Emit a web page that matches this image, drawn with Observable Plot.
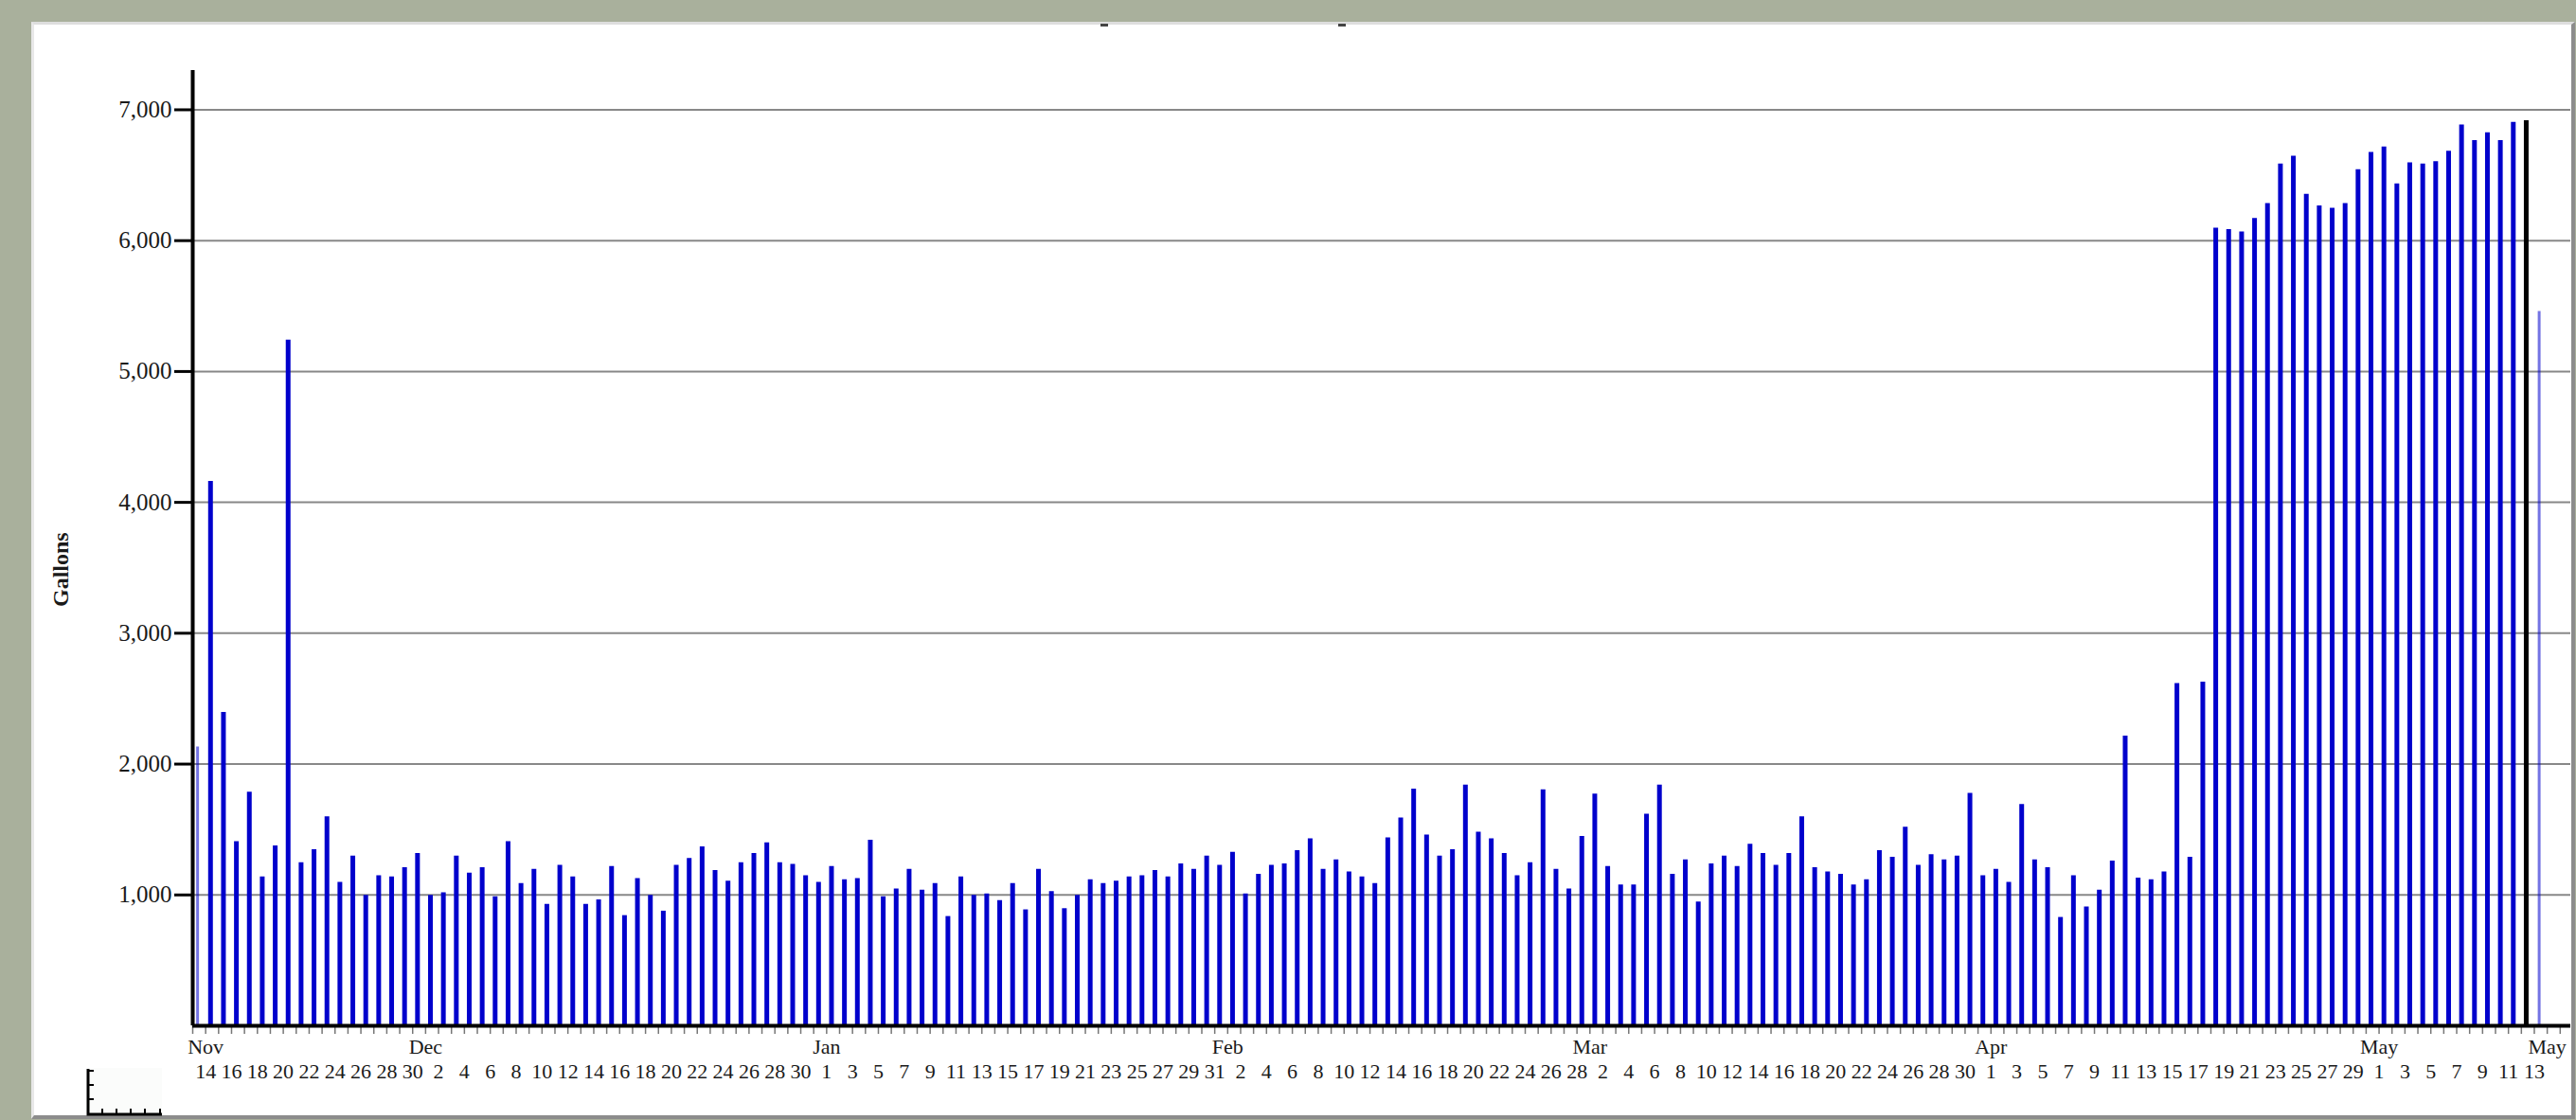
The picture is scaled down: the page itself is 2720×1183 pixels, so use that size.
<!DOCTYPE html>
<html><head><meta charset="utf-8">
<script src="https://cdn.jsdelivr.net/npm/d3@7"></script>
<script src="https://cdn.jsdelivr.net/npm/@observablehq/plot@0.6"></script>
<style>
html,body{margin:0;padding:0;width:2720px;height:1183px;overflow:hidden;background:#a9b09c;}
#panel{position:absolute;left:33px;top:23px;width:2686px;height:1159px;box-sizing:border-box;background:#fff;border-top:3px solid #dedede;border-left:3px solid #e8e8e8;border-right:4px solid #8c8c8c;border-bottom:4px solid #8c8c8c;}
#chart{position:absolute;left:0;top:0;}
.dash{position:absolute;top:25px;width:8px;height:3px;background:#444;}
#ruler{position:absolute;left:88px;top:1126px;}
</style></head><body>
<div id="panel"></div>
<div class="dash" style="left:1162px"></div>
<div class="dash" style="left:1413px"></div>
<svg id="ruler" width="90" height="54" viewBox="0 0 90 54">
  <rect x="5" y="2" width="78" height="48" fill="#fbfcfb"/>
  <path d="M5 3V51H83" fill="none" stroke="#000" stroke-width="3"/>
  <path d="M5 5H11M5 20H11M5 35H11M20 51V45M35 51V45M50 51V45M65 51V45M81 51V45" stroke="#000" stroke-width="2"/>
</svg>
<div id="chart"></div>
<script>
// ---- data (gallons per day) ----
const months   = ["2010-11", "2010-12", "2011-01", "2011-02", "2011-03", "2011-04", "2011-05"];
const firstDay = [13, 1, 1, 1, 1, 1, 1];
const novGallons = [2130, 4160, 2395, 1408, 1786, 1137, 1375, 5240, 1246, 1345, 1597, 1096, 1297, 997, 1147, 1137, 1208, 1316];
const decGallons = [997, 1016, 1297, 1166, 1208, 985, 1408, 1087, 1195, 927, 1227, 1137, 927, 963, 1217, 842, 1125, 997, 876, 1227, 1278, 1367, 1186, 1106, 1246, 1316, 1399, 1246, 1234, 1147, 1096];
const janGallons = [1217, 1116, 1125, 1418, 985, 1045, 1195, 1036, 1087, 835, 1137, 997, 1007, 956, 1087, 886, 1195, 1026, 895, 997, 1116, 1087, 1106, 1137, 1147, 1186, 1137, 1237, 1195, 1297, 1227];
const febGallons = [1326, 1007, 1157, 1227, 1237, 1338, 1428, 1195, 1268, 1176, 1137, 1087, 1437, 1588, 1808, 1457, 1297, 1346, 1839, 1479, 1428, 1316, 1147, 1246, 1803, 1195, 1045, 1447];
const marGallons = [1771, 1217, 1077, 1077, 1617, 1839, 1157, 1268, 946, 1237, 1297, 1217, 1387, 1316, 1227, 1316, 1597, 1208, 1176, 1157, 1077, 1116, 1338, 1287, 1517, 1227, 1307, 1268, 1297, 1776, 1147];
const aprGallons = [1195, 1096, 1692, 1268, 1208, 828, 1147, 908, 1036, 1258, 2214, 1128, 1116, 1176, 2615, 1287, 2627, 6096, 6084, 6067, 6169, 6284, 6586, 6646, 6354, 6265, 6248, 6284, 6542, 6675];
const mayGallons = [6716, 6434, 6595, 6586, 6603, 6684, 6884, 6764, 6824, 6764, 6904, 6916, 5458];
const monthValues = [novGallons, decGallons, janGallons, febGallons, marGallons, aprGallons, mayGallons];
const highlightDay = "2011-05-12";
const partialDays  = ["2010-11-13", "2011-05-13"];

// ---- tick labels ----
const yTicks = [1000, 2000, 3000, 4000, 5000, 6000, 7000];
const monthLabels     = ["Nov", "Dec", "Jan", "Feb", "Mar", "Apr", "May", "May"];
const monthLabelDates = ["2010-11-14", "2010-12-01", "2011-01-01", "2011-02-01", "2011-03-01", "2011-04-01", "2011-05-01", "2011-05-14"];
const dayLabelFirst = "2010-11-14", dayLabelLast = "2011-05-13";
const xStart = new Date("2010-11-13T00:00:00Z");
const xEnd   = new Date("2011-05-15T19:40:00Z");

const utc = s => new Date(s + "T00:00:00Z");
const series = monthValues.flatMap((vals, m) => vals.map((v, i) => ({
  date: utc(`${months[m]}-${String(firstDay[m] + i).padStart(2, "0")}`), value: v
})));
const key = d => d3.utcFormat("%Y-%m-%d")(d.date);
const normal    = series.filter(d => key(d) !== highlightDay && !partialDays.includes(key(d)));
const highlight = series.filter(d => key(d) === highlightDay);
const partial   = series.filter(d => partialDays.includes(key(d)));
const barX = d => d3.utcHour.offset(d.date, 9);

const allDays = d3.utcDay.range(xStart, d3.utcDay.offset(xEnd, 1)).filter(d => d <= xEnd);
const dayLabels = d3.utcDay.range(utc(dayLabelFirst), d3.utcDay.offset(utc(dayLabelLast), 1)).filter((d, i) => i % 2 === 0);
const months2 = monthLabels.map((t, i) => ({date: utc(monthLabelDates[i]), text: t}));

const font = "'Liberation Serif', 'Times New Roman', serif";
const chart = Plot.plot({
  width: 2720, height: 1150,
  marginLeft: 203, marginRight: 6, marginTop: 74, marginBottom: 67,
  style: {background: "transparent", fontFamily: font, color: "#1a1a1a", overflow: "visible"},
  x: {type: "utc", domain: [xStart, xEnd], axis: null},
  y: {domain: [0, 7300], axis: null},
  marks: [
    Plot.gridY(yTicks, {stroke: "#888", strokeOpacity: 1, strokeWidth: 2}),
    Plot.ruleX(normal, {x: barX, y1: 0, y2: "value", stroke: "#0000cc", strokeWidth: 5}),
    Plot.ruleX(partial, {x: barX, y1: 0, y2: "value", stroke: "#0000cc", strokeOpacity: 0.55, strokeWidth: 3}),
    Plot.ruleX(highlight, {x: barX, y1: 0, y2: "value", stroke: "#000", strokeWidth: 5}),
    Plot.axisX({ticks: allDays, tickSize: 9, tickFormat: () => "", stroke: "#777", strokeWidth: 1.5, label: null}),
    Plot.axisX({ticks: dayLabels, tickSize: 0, tickPadding: 40, tickFormat: d3.utcFormat("%-d"), fontSize: 22, label: null}),
    Plot.text(months2, {x: "date", frameAnchor: "bottom", text: "text", dy: 14, lineAnchor: "top", fontSize: 22}),
    Plot.axisY({ticks: yTicks, tickSize: 19, tickPadding: 3, tickFormat: d3.format(","), fontSize: 25, stroke: "#000", strokeWidth: 3, label: null}),
    Plot.ruleY([0], {stroke: "#000", strokeWidth: 4}),
    Plot.ruleX([xStart], {stroke: "#000", strokeWidth: 4}),
    Plot.text(["Gallons"], {frameAnchor: "left", rotate: -90, dx: -139, dy: 62, fontWeight: "bold", fontSize: 24})
  ]
});
document.getElementById("chart").appendChild(chart);
</script>
</body></html>
